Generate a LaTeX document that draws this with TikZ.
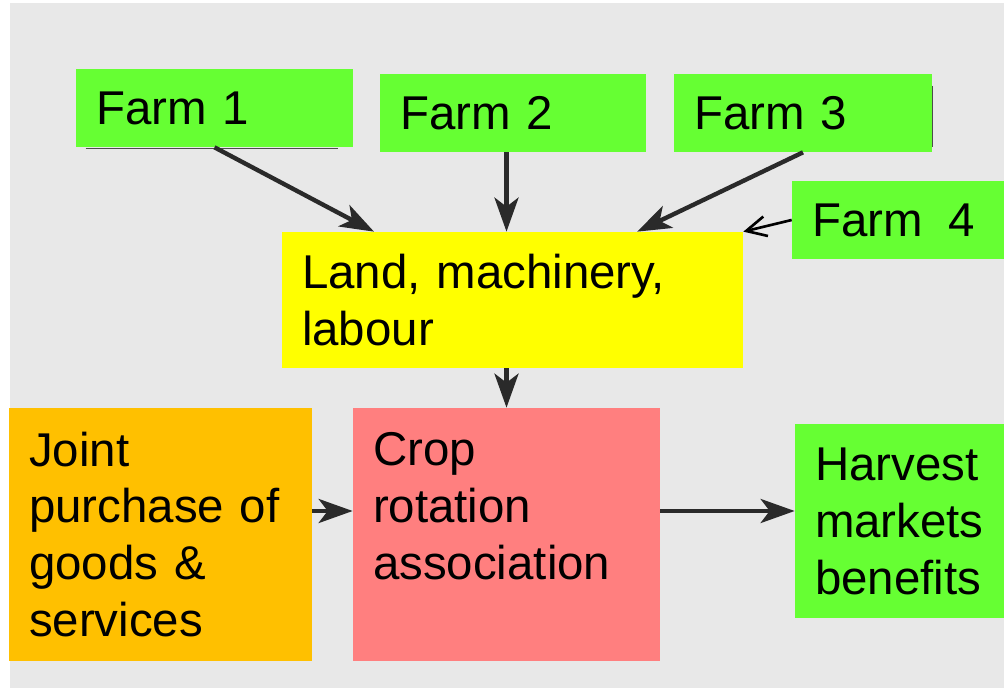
\documentclass[tikz,border=0pt]{standalone}
\usepackage{fontspec}
\setmainfont{Liberation Sans}
\usetikzlibrary{arrows.meta,calc}
\definecolor{mygreen}{HTML}{66FF33}
\definecolor{myyellow}{HTML}{FFFF00}
\definecolor{myorange}{HTML}{FFC000}
\definecolor{mypink}{HTML}{FF7F7F}
\definecolor{mygray}{HTML}{E8E8E8}
\definecolor{myarrow}{HTML}{2A2A2A}

\begin{document}
\begin{tikzpicture}[x=0.02cm, y=-0.02cm,
    box/.style={rectangle, inner xsep=0.4cm, inner ysep=0pt, align=left,
      font=\fontsize{27}{32.4}\selectfont, text=black},
    flow/.style={-{Stealth[length=0.68cm, width=0.48cm, inset=0.18cm]},
      line width=2.5pt, myarrow}]
    % background
    \useasboundingbox (0,0) rectangle (1004,688);
    \fill[mygray] (10,3) rectangle (1004,688);

    % farms
    \node[box, fill=mygreen, text width=4.74cm, minimum height=1.56cm]
      (f1) at (214.5,108) {Farm 1};
    \node[box, fill=mygreen, text width=4.52cm, minimum height=1.56cm]
      (f2) at (513,113) {Farm 2};
    \node[box, fill=mygreen, text width=4.36cm, minimum height=1.56cm]
      (f3) at (803,113) {Farm 3};
    \node[box, fill=mygreen, text width=3.44cm, minimum height=1.56cm]
      (f4) at (898,220) {Farm\hspace{0.54em}4};
    \draw[gray!60!black, line width=0.5pt]
      ([xshift=0.2cm, yshift=-0.4pt]f1.south west) -- ([xshift=-0.3cm, yshift=-0.4pt]f1.south east);
    \draw[gray!60!black, line width=0.5pt]
      ([yshift=-0.24cm]f3.north east) -- ([yshift=0.1cm]f3.south east);

    % pooled resources
    \node[box, fill=myyellow, text width=8.42cm, minimum height=2.72cm]
      (land) at (512.5,300) {Land, machinery,\\labour};

    % bottom row
    \node[box, fill=myorange, text width=5.26cm, minimum height=5.06cm]
      (joint) at (160.5,534.5) {Joint\\purchase of\\goods \&\\services};
    \node[box, fill=mypink, text width=5.34cm, minimum height=5.06cm]
      (crop) at (506.5,534.5) {Crop\\rotation\\association\\\mbox{}};
    \node[box, fill=mygreen, text width=3.38cm, minimum height=3.88cm]
      (harvest) at (899.5,521) {Harvest\\markets\\benefits};

    % arrows
    \draw[flow] (f1.south) -- ($(land.north west)!0.2!(land.north east)$);
    \draw[flow] (f2.south -| crop.north) -- (land.north -| crop.north);
    \draw[flow] (f3.south) -- ($(land.north west)!0.77!(land.north east)$);
    \draw[-{Straight Barb[length=0.4cm, width=0.4cm]}, line width=1.5pt, black]
      (f4.west) -- (land.north east);
    \draw[flow] (land.south -| crop.north) -- (crop.north);
    \coordinate (row) at (0,511);
    \draw[flow] (joint.east |- row) -- (crop.west |- row);
    \draw[flow] (crop.east |- row) -- (harvest.west |- row);
\end{tikzpicture}
\end{document}
